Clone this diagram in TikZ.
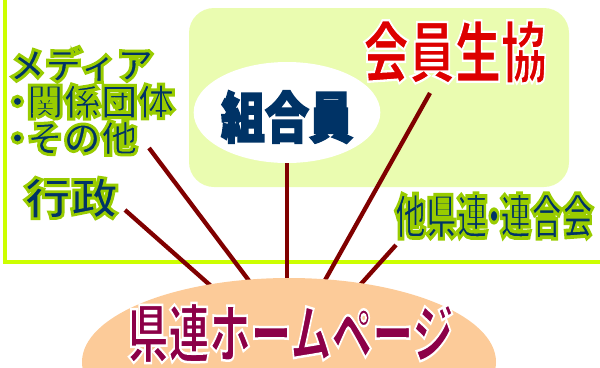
\documentclass[tikz,border=0pt]{standalone}
\usepackage{fontspec}
\usepackage{graphicx}
\usetikzlibrary{shapes.geometric}
\newfontfamily\jp{Noto Sans CJK JP}
\definecolor{frameg}{RGB}{204,255,0}
\definecolor{boxg}{RGB}{234,252,176}
\definecolor{navy}{RGB}{0,51,102}
\definecolor{lred}{RGB}{128,0,0}
\definecolor{peach}{RGB}{252,203,153}
\definecolor{crim}{RGB}{140,0,72}
\definecolor{kred}{RGB}{221,0,0}
\pgfdeclarelayer{bg}
\pgfsetlayers{bg,main}
% outlined text: #1 stroke rgb, #2 stroke width, #3 text
\newcommand\olt[3]{\special{pdf:literal direct 2 Tr #2 w #1 RG}#3\special{pdf:literal direct 0 Tr}}
\begin{document}
\begin{tikzpicture}[x=1pt,y=-1pt,
  conn/.style={draw=lred,line width=4.3pt},
  jtxt/.style={inner sep=0pt,font=\jp\bfseries},
]
\useasboundingbox (0,0) rectangle (600,367);
% connector end points
\coordinate (s1) at (125,210);
\coordinate (e1) at (211,286);
\coordinate (s2) at (149,148);
\coordinate (e2) at (250,282);
\coordinate (s4) at (430,93);
\coordinate (e4) at (324,282);
\coordinate (s5) at (396,245);
\coordinate (e5) at (360,285);
% ellipses
\node[ellipse,fill=white,minimum width=182pt,minimum height=101pt,inner sep=0pt,font=\jp\bfseries,text=navy] (kumiai) at (287,112.5)
  {\raisebox{-4.5pt}[\height][\depth]{\fontsize{44}{44}\selectfont\scalebox{1}[1.26]{\olt{0 0.2 0.4}{1.4}{組合員}}}};
\node[ellipse,fill=peach,minimum width=414pt,minimum height=168pt,inner sep=0pt] (hpbg) at (289,362) {};
% texts
\node[jtxt,text=crim] (hp) at (290.5,333)
  {\fontsize{41}{41}\selectfont\scalebox{1}[1.55]{\olt{1 1 1}{1.6}{県連ホームページ}}};
\node[jtxt,text=kred] (seikyo) at (455,52)
  {\fontsize{46}{46}\selectfont\scalebox{1}[1.45]{\olt{1 1 1}{1.6}{会員生協}}};
\node[jtxt,text=navy] (taken) at (494,216)
  {\fontsize{31}{31}\selectfont\scalebox{1}[1.55]{\olt{0.6 0.8 0}{2.4}{他県連\makebox[0.4em]{・}連合会}}};
\node[jtxt,text=navy] (gyosei) at (71,198)
  {\fontsize{47}{47}\selectfont\scalebox{1}[0.93]{\olt{0.6 0.8 0}{3}{行政}}};
\node[inner sep=0pt,font=\jp\bfseries\fontsize{37}{36.5}\selectfont,text=navy,align=left,anchor=west] (media) at (8,101)
  {\olt{0.6 0.8 0}{3}{メディア\\\makebox[0.5em]{・}関係団体\\\makebox[0.5em]{・}その他}};
% background layer: frame, member area, connectors
\begin{pgfonlayer}{bg}
\draw[frameg,line width=3.5pt] (5,-5) -- (5,262) -- (605,262);
\fill[boxg,rounded corners=25pt] (189,8) rectangle (569,187);
\draw[conn] (s1) -- (e1);
\draw[conn] (s2) -- (e2);
\draw[conn] (kumiai.south) -- (kumiai.south |- hpbg.north);
\draw[conn] (s4) -- (e4);
\draw[conn] (s5) -- (e5);
\end{pgfonlayer}
\end{tikzpicture}
\end{document}
